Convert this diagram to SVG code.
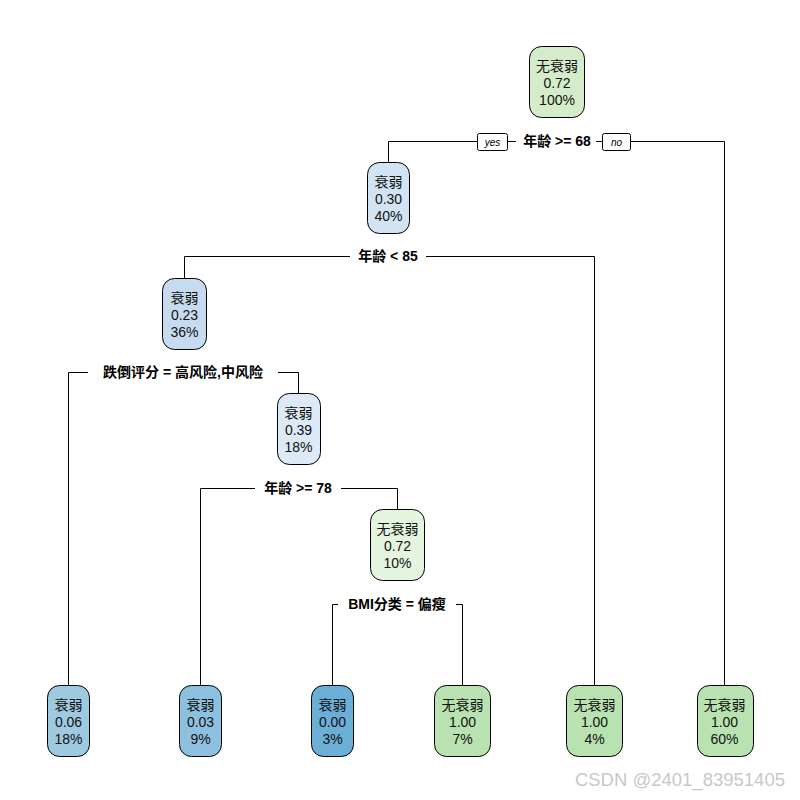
<svg xmlns="http://www.w3.org/2000/svg" width="800" height="800" viewBox="0 0 800 800">
<style>
.node rect{stroke:#000;stroke-width:1}
.node text{font-family:"Liberation Sans","Noto Sans CJK SC",sans-serif;font-size:14px;text-anchor:middle;fill:#111}
.lbl{font-family:"Liberation Sans","Noto Sans CJK SC",sans-serif;font-size:14px;font-weight:bold;text-anchor:middle;fill:#000}
.yn rect{fill:#fff;stroke:#000;stroke-width:1}
.yn text{font-family:"Liberation Sans",sans-serif;font-size:10px;font-style:italic;text-anchor:middle}
#edges path{fill:none;stroke:#000;stroke-width:1}
</style>
<rect width="800" height="800" fill="#fff"/>
<g id="edges">
<path d="M388.5 162V141.5H477M507 141.5H516M596 141.5H602M630 141.5H724.5V685"/>
<path d="M184.5 278V256.5H350M426 256.5H594.5V685"/>
<path d="M68.5 685V372.5H88M278 372.5H298.5V393"/>
<path d="M200.5 685V488.5H255M341 488.5H397.5V509"/>
<path d="M332.5 685V604.5H338M456 604.5H462.5V685"/>
</g>
<g id="yes" class="yn"><rect x="477.5" y="133.5" width="30" height="17" rx="2"/><text x="492.5" y="146">yes</text></g>
<g id="no" class="yn"><rect x="602.5" y="133.5" width="28" height="17" rx="2"/><text x="616.5" y="146">no</text></g>
<g id="labels">
<text class="lbl" x="557" y="146">年龄 &gt;= 68</text>
<text class="lbl" x="388" y="261">年龄 &lt; 85</text>
<text class="lbl" x="183" y="377">跌倒评分 = 高风险,中风险</text>
<text class="lbl" x="298" y="493">年龄 &gt;= 78</text>
<text class="lbl" x="397" y="609">BMI分类 = 偏瘦</text>
</g>
<g id="n1" class="node"><rect x="529.5" y="46.5" width="55" height="71" rx="12" fill="#d5ecca"/><text x="557" y="71">无衰弱</text><text x="557" y="88">0.72</text><text x="557" y="105">100%</text></g>
<g id="n2" class="node"><rect x="367.5" y="162.5" width="42" height="71" rx="12" fill="#d2e3f3"/><text x="388.5" y="187">衰弱</text><text x="388.5" y="204">0.30</text><text x="388.5" y="221">40%</text></g>
<g id="n3" class="node"><rect x="162.5" y="278.5" width="44" height="71" rx="12" fill="#c6dbef"/><text x="184.5" y="303">衰弱</text><text x="184.5" y="320">0.23</text><text x="184.5" y="337">36%</text></g>
<g id="n4" class="node"><rect x="277.5" y="393.5" width="43" height="71" rx="12" fill="#dde9f6"/><text x="298.5" y="418">衰弱</text><text x="298.5" y="435">0.39</text><text x="298.5" y="452">18%</text></g>
<g id="n5" class="node"><rect x="370.5" y="509.5" width="54" height="71" rx="12" fill="#e5f4df"/><text x="397.5" y="534">无衰弱</text><text x="397.5" y="551">0.72</text><text x="397.5" y="568">10%</text></g>
<g id="l1" class="node"><rect x="47.5" y="685.5" width="42" height="71" rx="12" fill="#9ecae1"/><text x="68.5" y="710">衰弱</text><text x="68.5" y="727">0.06</text><text x="68.5" y="744">18%</text></g>
<g id="l2" class="node"><rect x="179.5" y="685.5" width="42" height="71" rx="12" fill="#8dc0de"/><text x="200.5" y="710">衰弱</text><text x="200.5" y="727">0.03</text><text x="200.5" y="744">9%</text></g>
<g id="l3" class="node"><rect x="311.5" y="685.5" width="42" height="71" rx="12" fill="#6baed6"/><text x="332.5" y="710">衰弱</text><text x="332.5" y="727">0.00</text><text x="332.5" y="744">3%</text></g>
<g id="l4" class="node"><rect x="434.5" y="685.5" width="56" height="71" rx="12" fill="#b8e3b0"/><text x="462.5" y="710">无衰弱</text><text x="462.5" y="727">1.00</text><text x="462.5" y="744">7%</text></g>
<g id="l5" class="node"><rect x="566.5" y="685.5" width="56" height="71" rx="12" fill="#b8e3b0"/><text x="594.5" y="710">无衰弱</text><text x="594.5" y="727">1.00</text><text x="594.5" y="744">4%</text></g>
<g id="l6" class="node"><rect x="697.5" y="685.5" width="56" height="71" rx="12" fill="#b8e3b0"/><text x="724.5" y="710">无衰弱</text><text x="724.5" y="727">1.00</text><text x="724.5" y="744">60%</text></g>
<text x="785" y="786" font-family="Liberation Sans,sans-serif" font-size="18.5" fill="#c8c8c8" text-anchor="end">CSDN @2401_83951405</text>
</svg>
